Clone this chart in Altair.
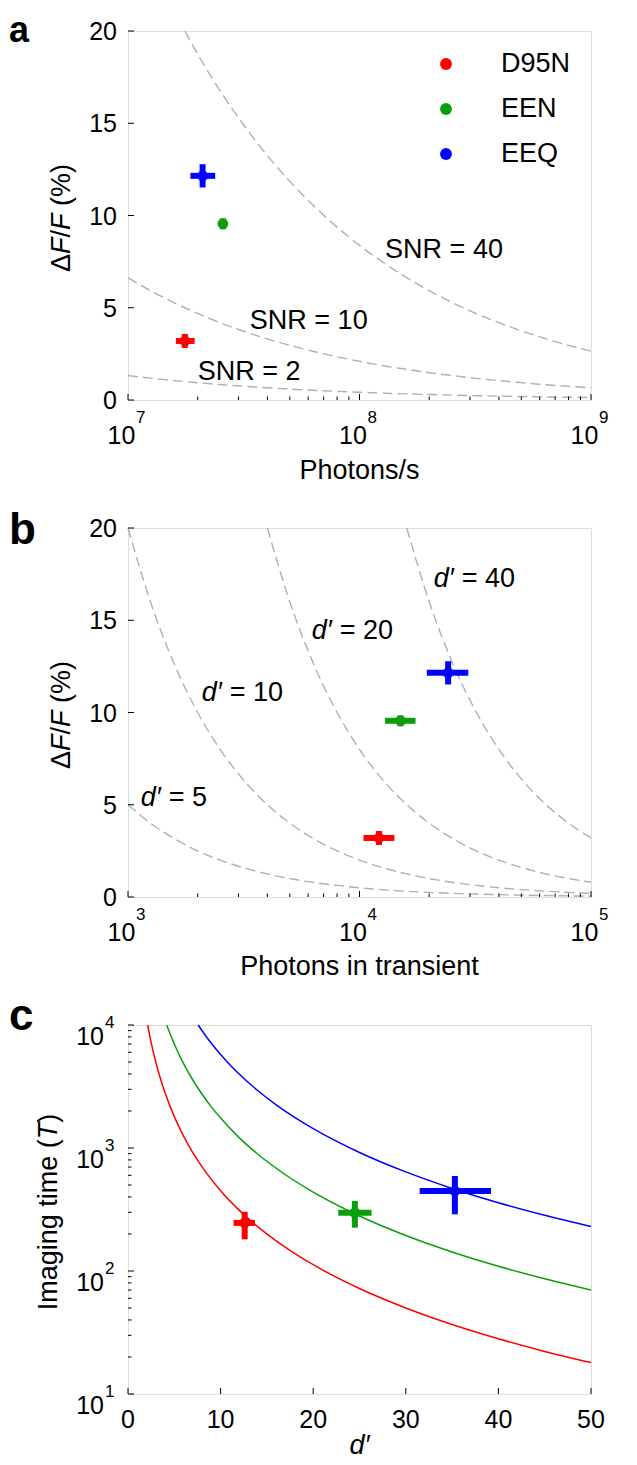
import altair as alt
import pandas as pd

FONT = "Liberation Sans"
W, H = 463, 369
TXT = 27
TICK = 25
EXP = 17
GRAY = "#b0b0b0"

variants = ["D95N", "EEN", "EEQ"]
colors = ["#ff0000", "#0a9f0a", "#0000ff"]

# ---------------- panel a data ----------------
a_rate = [1.76e7, 2.57e7, 2.10e7]
a_rate_lo = [1.61e7, 2.49e7, 1.86e7]
a_rate_hi = [1.94e7, 2.65e7, 2.38e7]
dff = [3.2, 9.55, 12.15]
dff_lo = [2.82, 9.25, 11.52]
dff_hi = [3.58, 9.85, 12.78]

a_grid = [1e7, 1.25e7, 1.6e7, 2e7, 2.5e7, 3.2e7, 4e7, 5e7, 6.3e7, 8e7, 1e8,
          1.25e8, 1.6e8, 2e8, 2.5e8, 3.2e8, 4e8, 5e8, 6.3e8, 8e8, 1e9]
snr2 = [1.325, 1.185, 1.048, 0.937, 0.838, 0.741, 0.663, 0.593, 0.528, 0.469, 0.419,
        0.375, 0.331, 0.296, 0.265, 0.234, 0.209, 0.187, 0.167, 0.148, 0.133]
snr10 = [6.63, 5.93, 5.24, 4.69, 4.19, 3.70, 3.31, 2.96, 2.64, 2.34, 2.10,
         1.87, 1.66, 1.48, 1.33, 1.17, 1.05, 0.94, 0.83, 0.74, 0.66]
snr40_x = [1.76e7, 2e7, 2.5e7, 3.2e7, 4e7, 5e7, 6.3e7, 8e7, 1e8, 1.25e8,
           1.6e8, 2e8, 2.5e8, 3.2e8, 4e8, 5e8, 6.3e8, 8e8, 1e9]
snr40 = [20.0, 18.74, 16.76, 14.81, 13.25, 11.85, 10.56, 9.37, 8.38, 7.50,
         6.63, 5.93, 5.30, 4.68, 4.19, 3.75, 3.34, 2.96, 2.65]
snr_text = ["SNR = 40", "SNR = 10", "SNR = 2"]
snr_text_x = [1.29e8, 3.36e7, 2.0e7]
snr_text_y = [8.15, 4.28, 1.52]

a_major = [1e7, 1e8, 1e9]
a_base = ["10", "10", "10"]
a_exp = ["7", "8", "9"]
a_minor = [2e7, 3e7, 4e7, 5e7, 6e7, 7e7, 8e7, 9e7,
           2e8, 3e8, 4e8, 5e8, 6e8, 7e8, 8e8, 9e8]
dff_ticks = [0, 5, 10, 15, 20]
dff_tick_text = ["0", "5", "10", "15", "20"]

# ---------------- panel b data ----------------
b_phot = [12140, 15040, 24150]
b_phot_lo = [10400, 12900, 19540]
b_phot_hi = [14150, 17460, 29510]

b_grid = [1000, 1250, 1600, 2000, 2500, 3200, 4000, 5000, 6300, 8000, 10000,
          12500, 16000, 20000, 25000, 32000, 40000, 50000, 63000, 80000, 100000]
d5 = [5.0, 4.0, 3.13, 2.5, 2.0, 1.56, 1.25, 1.0, 0.79, 0.63, 0.5,
      0.4, 0.31, 0.25, 0.2, 0.16, 0.13, 0.1, 0.08, 0.06, 0.05]
d10 = [20.0, 16.0, 12.5, 10.0, 8.0, 6.25, 5.0, 4.0, 3.17, 2.5, 2.0,
       1.6, 1.25, 1.0, 0.8, 0.63, 0.5, 0.4, 0.32, 0.25, 0.2]
d20_x = [4000, 5000, 6300, 8000, 10000, 12500, 16000, 20000, 25000, 32000,
         40000, 50000, 63000, 80000, 100000]
d20 = [20.0, 16.0, 12.7, 10.0, 8.0, 6.4, 5.0, 4.0, 3.2, 2.5, 2.0, 1.6, 1.27, 1.0, 0.8]
d40_x = [16000, 20000, 25000, 32000, 40000, 50000, 63000, 80000, 100000]
d40 = [20.0, 16.0, 12.8, 10.0, 8.0, 6.4, 5.08, 4.0, 3.2]
d_sym = ["d\u2032", "d\u2032", "d\u2032", "d\u2032"]
d_text = ["= 40", "= 20", "= 10", "= 5"]
d_text_x = [20940, 6220, 2084, 1135]
d_text_y = [17.24, 14.43, 11.03, 5.37]

b_major = [1e3, 1e4, 1e5]
b_base = ["10", "10", "10"]
b_exp = ["3", "4", "5"]
b_minor = [2e3, 3e3, 4e3, 5e3, 6e3, 7e3, 8e3, 9e3,
           2e4, 3e4, 4e4, 5e4, 6e4, 7e4, 8e4, 9e4]

# ---------------- panel c data ----------------
c_d = [12.6, 24.5, 35.3]
c_d_lo = [11.4, 22.7, 31.5]
c_d_hi = [13.7, 26.3, 39.2]
c_T = [246, 298, 447]
c_T_lo = [181, 225, 289]
c_T_hi = [303, 371, 592]

red_d = [2.12, 2.5, 3, 3.5, 4, 5, 6, 7, 8, 10, 12, 14, 17, 20, 25, 30, 35, 40, 45, 50]
red_T = [10000, 7200, 5000, 3673, 2812, 1800, 1250, 918, 703, 450, 312.5, 229.6,
         155.7, 112.5, 72, 50, 36.7, 28.1, 22.2, 18.0]
green_d = [4.18, 4.5, 5, 5.5, 6, 7, 8, 9, 10, 12, 14, 17, 20, 25, 30, 35, 40, 45, 50]
green_T = [10000, 8642, 7000, 5785, 4861, 3571, 2734, 2160, 1750, 1215, 893, 606,
           437.5, 280, 194.4, 142.9, 109.4, 86.4, 70.0]
blue_d = [7.58, 8, 8.5, 9, 10, 11, 12, 14, 16, 18, 20, 25, 30, 35, 40, 45, 50]
blue_T = [10000, 8984, 7958, 7099, 5750, 4752, 3993, 2934, 2246, 1775, 1437.5,
          920, 639, 469, 359, 284, 230]

c_xticks = [0, 10, 20, 30, 40, 50]
c_xtick_text = ["0", "10", "20", "30", "40", "50"]
c_ymajor = [10, 100, 1000, 10000]
c_ybase = ["10", "10", "10", "10"]
c_yexp = ["1", "2", "3", "4"]
c_yminor = [20, 30, 40, 50, 60, 70, 80, 90, 200, 300, 400, 500, 600, 700, 800, 900,
            2000, 3000, 4000, 5000, 6000, 7000, 8000, 9000]

# ---------------- helpers ----------------
cs = alt.Scale(domain=variants, range=colors)


def one():
    return alt.Data(values=[{"k": 0}])


def label(text, x, y, size=TXT, style="normal", weight="normal", align="left",
          baseline="alphabetic", angle=0):
    return alt.Chart(one()).mark_text(
        text=text, font=FONT, fontSize=size, fontStyle=style, fontWeight=weight,
        align=align, baseline=baseline, angle=angle, color="black"
    ).encode(x=alt.value(x), y=alt.value(y))


def dom_axis():
    return alt.Axis(title=None, labels=False, ticks=False, grid=False,
                    domainColor="black", domainWidth=1.5)


def xticks(vals, xs, length):
    return alt.Chart(pd.DataFrame({"v": vals})).mark_rule(color="black", strokeWidth=1).encode(
        x=alt.X("v:Q", scale=xs, axis=None), y=alt.value(H), y2=alt.value(H - length))


def yticks(vals, ys, length):
    return alt.Chart(pd.DataFrame({"v": vals})).mark_rule(color="black", strokeWidth=1).encode(
        y=alt.Y("v:Q", scale=ys, axis=None), x=alt.value(0), x2=alt.value(length))


def xlog_labels(majors, bases, exps, xs):
    df = pd.DataFrame({"v": majors, "b": bases, "e": exps})
    base = alt.Chart(df).mark_text(font=FONT, fontSize=TICK, align="center", baseline="alphabetic",
                                   dx=-6.5, color="black").encode(
        x=alt.X("v:Q", scale=xs, axis=None), y=alt.value(H + 44), text="b:N")
    sup = alt.Chart(df).mark_text(font=FONT, fontSize=EXP, align="left", baseline="alphabetic",
                                  dx=8, color="black").encode(
        x=alt.X("v:Q", scale=xs, axis=None), y=alt.value(H + 23), text="e:N")
    return [base, sup]


def ylin_labels(vals, texts, ys):
    df = pd.DataFrame({"v": vals, "t": texts})
    return alt.Chart(df).mark_text(font=FONT, fontSize=TICK, align="right", baseline="alphabetic",
                                   dy=9, color="black").encode(
        y=alt.Y("v:Q", scale=ys, axis=None), x=alt.value(-11), text="t:N")


def markers(xv, xlo, xhi, yv, ylo, yhi, xs, ys):
    df = pd.DataFrame({"v": variants, "x": xv, "xlo": xlo, "xhi": xhi,
                       "y": yv, "ylo": ylo, "yhi": yhi})
    col = alt.Color("v:N", scale=cs, legend=None)
    h = alt.Chart(df).mark_rule(strokeWidth=6).encode(
        x=alt.X("xlo:Q", scale=xs, axis=None), x2="xhi:Q",
        y=alt.Y("y:Q", scale=ys, axis=None), color=col)
    v = alt.Chart(df).mark_rule(strokeWidth=6).encode(
        x=alt.X("x:Q", scale=xs, axis=None),
        y=alt.Y("ylo:Q", scale=ys, axis=None), y2="yhi:Q", color=col)
    d = alt.Chart(df).mark_circle(size=115, opacity=1).encode(
        x=alt.X("x:Q", scale=xs, axis=None), y=alt.Y("y:Q", scale=ys, axis=None), color=col)
    return [h, v, d]


def legend_layers():
    out = []
    for i, name in enumerate(variants):
        df = pd.DataFrame({"v": [name]})
        out.append(alt.Chart(df).mark_circle(size=140, opacity=1, color=colors[i]).encode(
            x=alt.value(318), y=alt.value(33 + 45 * i)))
        out.append(alt.Chart(df).mark_text(font=FONT, fontSize=TXT, align="left",
                                           baseline="middle", color="black").encode(
            x=alt.value(373), y=alt.value(33 + 45 * i), text="v:N"))
    return out


def dff_title():
    # "ΔF/F (%)" with italic F, rotated
    xc = -66
    return [
        label("\u0394", xc, 241, angle=270, baseline="middle"),
        label("F", xc, 223, angle=270, baseline="middle", style="italic"),
        label("/", xc, 206.5, angle=270, baseline="middle"),
        label("F", xc, 199, angle=270, baseline="middle", style="italic"),
        label("(%)", xc, 175, angle=270, baseline="middle"),
    ]


# ---------------- panel a ----------------
xa = alt.Scale(type="log", domain=[1e7, 1e9], nice=False)
ya = alt.Scale(domain=[0, 20], nice=False, zero=False)

curves_a = pd.concat([
    pd.DataFrame({"x": a_grid, "y": snr2, "c": "2"}),
    pd.DataFrame({"x": a_grid, "y": snr10, "c": "10"}),
    pd.DataFrame({"x": snr40_x, "y": snr40, "c": "40"}),
])
lines_a = alt.Chart(curves_a).mark_line(color=GRAY, strokeWidth=1.4, strokeDash=[10, 5],
                                        interpolate="monotone").encode(
    x=alt.X("x:Q", scale=xa, axis=dom_axis()),
    y=alt.Y("y:Q", scale=ya, axis=dom_axis()),
    detail="c:N")
snr_lab = alt.Chart(pd.DataFrame({"x": snr_text_x, "y": snr_text_y, "t": snr_text})).mark_text(
    font=FONT, fontSize=TXT, align="left", baseline="middle", color="black").encode(
    x=alt.X("x:Q", scale=xa, axis=None), y=alt.Y("y:Q", scale=ya, axis=None), text="t:N")

panel_a = alt.layer(
    lines_a, snr_lab,
    *markers(a_rate, a_rate_lo, a_rate_hi, dff, dff_lo, dff_hi, xa, ya),
    *legend_layers(),
    xticks(a_major, xa, 6), xticks(a_minor, xa, 3.5), yticks(dff_ticks, ya, 6),
    *xlog_labels(a_major, a_base, a_exp, xa),
    ylin_labels(dff_ticks, dff_tick_text, ya),
    label("Photons/s", W / 2, H + 79, align="center"),
    *dff_title(),
    label("a", -119, 11, size=36, weight="bold"),
).properties(width=W, height=H)

# ---------------- panel b ----------------
xb = alt.Scale(type="log", domain=[1e3, 1e5], nice=False)
yb = alt.Scale(domain=[0, 20], nice=False, zero=False)

curves_b = pd.concat([
    pd.DataFrame({"x": b_grid, "y": d5, "c": "5"}),
    pd.DataFrame({"x": b_grid, "y": d10, "c": "10"}),
    pd.DataFrame({"x": d20_x, "y": d20, "c": "20"}),
    pd.DataFrame({"x": d40_x, "y": d40, "c": "40"}),
])
lines_b = alt.Chart(curves_b).mark_line(color=GRAY, strokeWidth=1.4, strokeDash=[10, 5],
                                        interpolate="monotone").encode(
    x=alt.X("x:Q", scale=xb, axis=dom_axis()),
    y=alt.Y("y:Q", scale=yb, axis=dom_axis()),
    detail="c:N")
dlab_df = pd.DataFrame({"x": d_text_x, "y": d_text_y, "s": d_sym, "t": d_text})
dlab_sym = alt.Chart(dlab_df).mark_text(
    font=FONT, fontSize=TXT, fontStyle="italic", align="left", baseline="middle", color="black").encode(
    x=alt.X("x:Q", scale=xb, axis=None), y=alt.Y("y:Q", scale=yb, axis=None), text="s:N")
dlab_txt = alt.Chart(dlab_df).mark_text(
    font=FONT, fontSize=TXT, align="left", baseline="middle", dx=28, color="black").encode(
    x=alt.X("x:Q", scale=xb, axis=None), y=alt.Y("y:Q", scale=yb, axis=None), text="t:N")

panel_b = alt.layer(
    lines_b, dlab_sym, dlab_txt,
    *markers(b_phot, b_phot_lo, b_phot_hi, dff, dff_lo, dff_hi, xb, yb),
    xticks(b_major, xb, 6), xticks(b_minor, xb, 3.5), yticks(dff_ticks, yb, 6),
    *xlog_labels(b_major, b_base, b_exp, xb),
    ylin_labels(dff_ticks, dff_tick_text, yb),
    label("Photons in transient", W / 2, H + 78, align="center"),
    *dff_title(),
    label("b", -119, 16, size=44, weight="bold"),
).properties(width=W, height=H)

# ---------------- panel c ----------------
xc_s = alt.Scale(domain=[0, 50], nice=False, zero=False)
yc_s = alt.Scale(type="log", domain=[10, 10000], nice=False)

curves_c = pd.concat([
    pd.DataFrame({"x": red_d, "y": red_T, "v": "D95N"}),
    pd.DataFrame({"x": green_d, "y": green_T, "v": "EEN"}),
    pd.DataFrame({"x": blue_d, "y": blue_T, "v": "EEQ"}),
])
lines_c = alt.Chart(curves_c).mark_line(strokeWidth=1.5, interpolate="monotone").encode(
    x=alt.X("x:Q", scale=xc_s, axis=dom_axis()),
    y=alt.Y("y:Q", scale=yc_s, axis=dom_axis()),
    color=alt.Color("v:N", scale=cs, legend=None))

cx_lab = alt.Chart(pd.DataFrame({"v": c_xticks, "t": c_xtick_text})).mark_text(
    font=FONT, fontSize=TICK, align="center", baseline="alphabetic", color="black").encode(
    x=alt.X("v:Q", scale=xc_s, axis=None), y=alt.value(H + 34), text="t:N")
cy_df = pd.DataFrame({"v": c_ymajor, "b": c_ybase, "e": c_yexp})
cy_base = alt.Chart(cy_df).mark_text(
    font=FONT, fontSize=TICK, align="right", baseline="alphabetic", dy=20, color="black").encode(
    y=alt.Y("v:Q", scale=yc_s, axis=None), x=alt.value(-24), text="b:N")
cy_sup = alt.Chart(cy_df).mark_text(
    font=FONT, fontSize=EXP, align="left", baseline="alphabetic", dy=3, color="black").encode(
    y=alt.Y("v:Q", scale=yc_s, axis=None), x=alt.value(-23), text="e:N")

yct = -79
panel_c = alt.layer(
    lines_c,
    *markers(c_d, c_d_lo, c_d_hi, c_T, c_T_lo, c_T_hi, xc_s, yc_s),
    xticks(c_xticks, xc_s, 6), yticks(c_ymajor, yc_s, 6), yticks(c_yminor, yc_s, 3.5),
    cx_lab, cy_base, cy_sup,
    label("d\u2032", W / 2, H + 60, align="center", style="italic"),
    label("Imaging time (", yct, 285.3, angle=270, baseline="middle"),
    label("T", yct, 114.3, angle=270, baseline="middle", style="italic"),
    label(")", yct, 97.8, angle=270, baseline="middle"),
    label("c", -119, 5, size=44, weight="bold"),
).properties(width=W, height=H)

chart = alt.vconcat(panel_a, panel_b, panel_c, spacing=128, bounds="flush").resolve_scale(
    x="independent", y="independent", color="independent"
).properties(
    padding={"left": 0, "top": 4, "right": 0, "bottom": 0}
).configure_view(stroke=None).configure(font=FONT)

chart.save("out.html", embed_options={"renderer": "svg", "actions": False})
